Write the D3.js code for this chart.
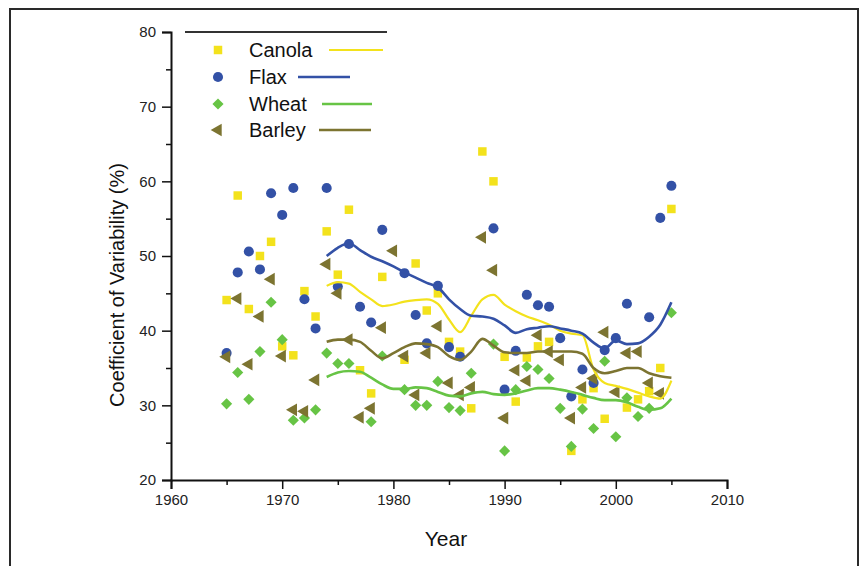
<!DOCTYPE html>
<html>
<head>
<meta charset="utf-8">
<script src="https://cdn.jsdelivr.net/npm/d3@7"></script>
<style>
  body { margin: 0; background: #fff; }
  svg { display: block; font-family: "Liberation Sans", Arial, sans-serif; }
</style>
</head>
<body>
<div id="chart"></div>
<script>
// yearly points, 1965-2005 (null = not visible in the figure)
let years = [1965, 1966, 1967, 1968, 1969, 1970, 1971, 1972, 1973, 1974,
             1975, 1976, 1977, 1978, 1979, 1980, 1981, 1982, 1983, 1984,
             1985, 1986, 1987, 1988, 1989, 1990, 1991, 1992, 1993, 1994,
             1995, 1996, 1997, 1998, 1999, 2000, 2001, 2002, 2003, 2004, 2005];

let canola = [44.1, 58.1, 42.9, 50.0, 51.9, 37.9, 36.7, 45.3, 41.9, 53.3,
              47.5, 56.2, 34.7, 31.6, 47.2, null, 36.1, 49.0, 42.7, 45.0,
              38.5, 37.2, 29.6, 64.0, 60.0, 36.5, 30.5, 36.4, 37.9, 38.5,
              null, 23.9, 30.8, 32.3, 28.2, null, 29.7, 30.8, 31.9, 35.0, 56.3];

let flax = [37.0, 47.8, 50.6, 48.2, 58.4, 55.5, 59.1, 44.2, 40.3, 59.1,
            45.9, 51.6, 43.2, 41.1, 53.5, null, 47.7, 42.1, 38.3, 46.0,
            37.8, 36.5, null, null, 53.7, 32.1, 37.3, 44.8, 43.4, 43.2,
            39.0, 31.2, 34.8, 33.0, 37.4, 39.0, 43.6, null, 41.8, 55.1, 59.4];

let wheat = [30.2, 34.4, 30.8, 37.2, 43.8, 38.8, 28.0, 28.3, 29.4, 37.0,
             35.6, 35.6, null, 27.8, 36.6, null, 32.1, 30.0, 30.0, 33.2,
             29.7, 29.3, 34.3, null, 38.2, 23.9, 32.1, 35.2, 34.8, 33.6,
             29.6, 24.5, 29.5, 26.9, 35.9, 25.8, 31.0, 28.5, 29.6, null, 42.4];

let barley = [36.5, 44.3, 35.5, 41.9, 46.9, 36.6, 29.4, 29.2, 33.4, 48.9,
              45.0, 38.8, 28.4, 29.6, 40.4, 50.7, 36.6, 31.4, 37.0, 40.6,
              33.0, 31.4, 32.4, 52.5, 48.1, 28.3, 34.7, 33.3, 39.4, 37.2,
              36.1, 28.3, 32.4, 33.6, 39.8, 31.8, 37.0, 37.2, 33.0, 31.6, null];

// smoothed trend lines, 1974-2005
let lineYears = [1974, 1975, 1976, 1977, 1978, 1979, 1980, 1981, 1982, 1983,
                 1984, 1985, 1986, 1987, 1988, 1989, 1990, 1991, 1992, 1993,
                 1994, 1995, 1996, 1997, 1998, 1999, 2000, 2001, 2002, 2003, 2004, 2005];

let canolaLine = [46.0, 46.5, 46.3, 45.2, 44.2, 43.3, 43.5, 43.9, 44.1, 44.2,
                  43.6, 41.5, 39.8, 42.0, 44.2, 44.8, 43.5, 42.6, 41.9, 41.4,
                  40.8, 40.0, 39.6, 39.4, 34.8, 33.0, 32.6, 32.2, 31.7, 31.2, 30.9, 33.3];

let flaxLine = [50.0, 51.1, 51.7, 50.8, 49.9, 49.3, 48.6, 47.8, 47.1, 46.4,
                45.8, 44.2, 42.9, 42.0, 41.9, 41.6, 40.7, 39.7, 40.2, 40.4,
                40.6, 40.3, 40.0, 39.6, 38.4, 37.6, 38.7, 38.2, 38.3, 39.2, 40.8, 43.8];

let wheatLine = [33.8, 34.4, 34.6, 34.5, 33.7, 32.8, 32.2, 32.2, 32.4, 32.3,
                 31.8, 31.3, 31.2, 31.6, 31.8, 31.5, 31.4, 31.6, 32.0, 32.3,
                 32.3, 32.1, 31.8, 31.4, 31.0, 30.7, 30.7, 30.4, 29.8, 29.4, 29.6, 30.9];

let barleyLine = [38.5, 38.8, 38.8, 38.5, 37.3, 36.3, 37.0, 37.8, 38.3, 38.2,
                  37.8, 36.6, 36.1, 37.2, 38.9, 38.0, 37.1, 37.0, 37.0, 37.2,
                  37.2, 37.2, 37.2, 36.9, 35.0, 34.3, 34.6, 35.0, 35.0, 34.3, 33.9, 33.7];

let seriesNames = ["Canola", "Flax", "Wheat", "Barley"];
let xTicks = [1960, 1970, 1980, 1990, 2000, 2010];
let yTicks = [20, 30, 40, 50, 60, 70, 80];

let width = 862, height = 566;

let svg = d3.select("#chart")
    .append("svg")
    .attr("width", width)
    .attr("height", height);

// outer frame of the figure
svg.append("rect")
    .attr("x", 10).attr("y", 9)
    .attr("width", 848).attr("height", 570)
    .attr("fill", "none")
    .attr("stroke", "#2a2a2a")
    .attr("stroke-width", 2);

let x = d3.scaleLinear().domain([1960, 2010]).range([171, 727]);
let y = d3.scaleLinear().domain([20, 80]).range([480, 32]);

let colors = {
    Canola: "#f3e21c",
    Flax: "#3351a6",
    Wheat: "#67c445",
    Barley: "#7c7431"
};

// axes
svg.append("g")
    .attr("transform", `translate(0,${y(20)})`)
    .call(d3.axisBottom(x).tickValues(xTicks).tickFormat(d3.format("d")).tickSize(9).tickPadding(5));
svg.append("g")
    .attr("transform", `translate(0,${y(20)})`)
    .call(d3.axisBottom(x).tickValues(d3.range(1965, 2010, 10)).tickFormat("").tickSize(5))
    .call(g => g.select(".domain").remove());

svg.append("g")
    .attr("transform", `translate(${x(1960)},0)`)
    .call(d3.axisLeft(y).tickValues(yTicks).tickSize(9).tickPadding(6));
svg.append("g")
    .attr("transform", `translate(${x(1960)},0)`)
    .call(d3.axisLeft(y).tickValues(d3.range(25, 80, 10)).tickFormat("").tickSize(5))
    .call(g => g.select(".domain").remove());

svg.selectAll(".domain").attr("stroke", "#111").attr("stroke-width", 2);
svg.selectAll(".tick line").attr("stroke", "#111").attr("stroke-width", 1.5);
svg.selectAll(".tick text")
    .style("font-family", "'Liberation Sans', Arial, sans-serif")
    .style("font-size", "15px")
    .attr("fill", "#222");

svg.append("text")
    .attr("x", 446).attr("y", 546)
    .style("text-anchor", "middle")
    .style("font-size", "21px")
    .attr("fill", "#111")
    .text("Year");

svg.append("text")
    .attr("transform", `translate(117, ${285}) rotate(-90)`)
    .style("text-anchor", "middle")
    .attr("dominant-baseline", "central")
    .style("font-size", "20px")
    .attr("fill", "#111")
    .text("Coefficient of Variability (%)");

// marker shapes (diamond = square turned 45 degrees)
let symbols = {
    Canola: d3.symbol().type(d3.symbolSquare).size(72),
    Flax: d3.symbol().type(d3.symbolCircle).size(80),
    Wheat: d3.symbol().type(d3.symbolSquare).size(62),
    Barley: d3.symbol().type(d3.symbolTriangle).size(70)
};
let rotation = { Canola: 0, Flax: 0, Wheat: 45, Barley: -90 };

let pointData = {
    Canola: canola, Flax: flax, Wheat: wheat, Barley: barley
};
let lineData = {
    Canola: canolaLine, Flax: flaxLine, Wheat: wheatLine, Barley: barleyLine
};

let points = svg.append("g");
seriesNames.forEach(function(name) {
    let data = years.map((yr, i) => ({ year: yr, value: pointData[name][i] }))
        .filter(d => d.value != null);
    points.append("g").selectAll("path")
        .data(data)
        .enter()
        .append("path")
        .attr("d", symbols[name])
        .attr("transform", d => `translate(${x(d.year)},${y(d.value)}) rotate(${rotation[name]})`)
        .attr("fill", colors[name]);
});

let line = d3.line()
    .x(d => x(d.year))
    .y(d => y(d.value))
    .curve(d3.curveMonotoneX);

seriesNames.forEach(function(name) {
    let data = lineYears.map((yr, i) => ({ year: yr, value: lineData[name][i] }));
    svg.append("path")
        .datum(data)
        .attr("d", line)
        .attr("fill", "none")
        .attr("stroke", colors[name])
        .attr("stroke-width", name == "Canola" ? 2.2 : 2.6);
});

// legend
let legend = svg.append("g");
legend.append("line")
    .attr("x1", 185).attr("x2", 387)
    .attr("y1", 32).attr("y2", 32)
    .attr("stroke", "#333").attr("stroke-width", 2);

let legendRows = [
    { name: "Canola", y: 50, lx1: 329, lx2: 383 },
    { name: "Flax", y: 77, lx1: 298, lx2: 350 },
    { name: "Wheat", y: 104, lx1: 322, lx2: 372 },
    { name: "Barley", y: 130, lx1: 319, lx2: 371 }
];

legendRows.forEach(function(r) {
    legend.append("path")
        .attr("d", symbols[r.name])
        .attr("transform", `translate(218,${r.y}) rotate(${rotation[r.name]})`)
        .attr("fill", colors[r.name]);
    legend.append("text")
        .attr("x", 249).attr("y", r.y + 7)
        .style("font-size", "20px")
        .attr("fill", "#111")
        .text(r.name);
    legend.append("line")
        .attr("x1", r.lx1).attr("x2", r.lx2)
        .attr("y1", r.y).attr("y2", r.y)
        .attr("stroke", colors[r.name])
        .attr("stroke-width", r.name == "Canola" ? 2.2 : 2.6);
});
</script>
</body>
</html>
